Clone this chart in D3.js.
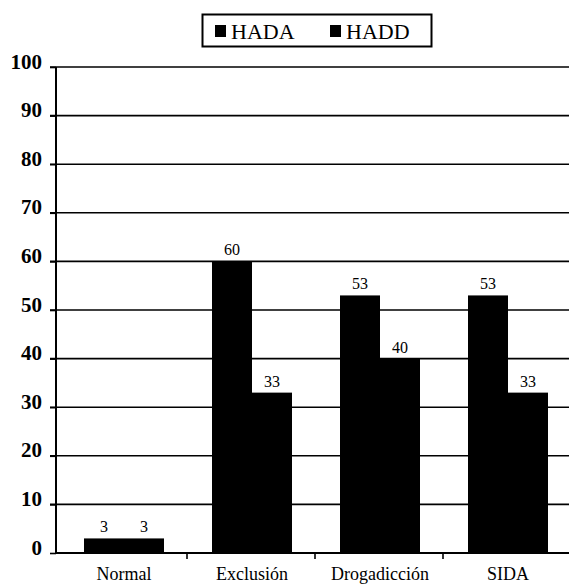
<!DOCTYPE html>
<html>
<head>
<meta charset="utf-8">
<script src="https://cdn.jsdelivr.net/npm/d3@7"></script>
<style>
  body { margin: 0; background: #fff; }
</style>
</head>
<body>
<div id="chart"></div>
<script>
// datos
const categorias = ["Normal", "Exclusión", "Drogadicción", "SIDA"];
const series = ["HADA", "HADD"];
const hada = [3, 60, 53, 53];
const hadd = [3, 33, 40, 33];
const ticksY = [0, 10, 20, 30, 40, 50, 60, 70, 80, 90, 100];

const width = 569, height = 585;
const x0 = 56, yTop = 67, yBase = 553;
const fuente = "'Liberation Serif', 'DejaVu Serif', 'Times New Roman', serif";

const svg = d3.select("#chart").append("svg")
  .attr("width", width)
  .attr("height", height)
  .attr("font-family", fuente);

const y = d3.scaleLinear().domain([0, 100]).range([yBase, yTop]);
const x = d3.scaleBand().domain(categorias).range([60, 572]).paddingInner(0.375).paddingOuter(0.1875);
const xs = d3.scaleBand().domain(series).range([0, x.bandwidth()]);

// lineas de la grilla
svg.append("g")
  .selectAll("line")
  .data(ticksY.filter(d => d > 0))
  .join("line")
  .attr("x1", x0 - 6)
  .attr("x2", width)
  .attr("y1", d => y(d))
  .attr("y2", d => y(d))
  .attr("stroke", "#000")
  .attr("stroke-width", 1.6);

// eje Y
const ejeY = svg.append("g")
  .attr("transform", "translate(" + x0 + ",0)")
  .call(d3.axisLeft(y).tickValues(ticksY).tickSize(6).tickPadding(8))
  .attr("font-family", fuente)
  .attr("font-size", 21);
ejeY.select(".domain").attr("stroke-width", 2).attr("d", "M0," + yBase + "V" + yTop);
ejeY.selectAll(".tick line").attr("stroke-width", 1.6);
ejeY.selectAll(".tick text")
  .style("font-family", fuente)
  .style("font-weight", "bold")
  .attr("dy", "0.05em");

// barras
const datos = categorias.map((c, i) => ({cat: c, valores: [{s: "HADA", v: hada[i]}, {s: "HADD", v: hadd[i]}]}));

const grupos = svg.append("g")
  .selectAll("g")
  .data(datos)
  .join("g")
  .attr("transform", d => "translate(" + x(d.cat) + ",0)");

grupos.selectAll("rect")
  .data(d => d.valores)
  .join("rect")
  .attr("x", d => xs(d.s))
  .attr("width", xs.bandwidth())
  .attr("y", d => y(d.v))
  .attr("height", d => y(0) - y(d.v))
  .attr("fill", "#000");

grupos.selectAll("text")
  .data(d => d.valores)
  .join("text")
  .attr("x", d => xs(d.s) + xs.bandwidth() / 2)
  .attr("y", d => y(d.v) - 6)
  .attr("text-anchor", "middle")
  .style("font-family", fuente)
  .style("font-size", "16px")
  .text(d => d.v);

// eje X
svg.append("line")
  .attr("x1", x0).attr("x2", width)
  .attr("y1", yBase).attr("y2", yBase)
  .attr("stroke", "#000").attr("stroke-width", 2);

svg.append("g")
  .selectAll("line")
  .data(categorias.slice(1))
  .join("line")
  .attr("x1", d => x(d) - x.step() * x.paddingInner() / 2 - 1)
  .attr("x2", d => x(d) - x.step() * x.paddingInner() / 2 - 1)
  .attr("y1", yBase)
  .attr("y2", yBase + 6)
  .attr("stroke", "#000")
  .attr("stroke-width", 1.6);

svg.append("g")
  .selectAll("text")
  .data(categorias)
  .join("text")
  .attr("x", d => x(d) + x.bandwidth() / 2)
  .attr("y", 580)
  .attr("text-anchor", "middle")
  .style("font-family", fuente)
  .style("font-size", "18px")
  .text(d => d);

// leyenda
const leyenda = svg.append("g");
leyenda.append("rect")
  .attr("x", 202.5).attr("y", 14.5)
  .attr("width", 229).attr("height", 32)
  .attr("fill", "none").attr("stroke", "#000").attr("stroke-width", 2);

const posLeyenda = [215, 330];
series.forEach((s, i) => {
  leyenda.append("rect")
    .attr("x", posLeyenda[i]).attr("y", 25)
    .attr("width", 11).attr("height", 12)
    .attr("fill", "#000");
  leyenda.append("text")
    .attr("x", posLeyenda[i] + 16).attr("y", 39)
    .style("font-family", fuente)
    .style("font-size", "22px")
    .text(s);
});
</script>
</body>
</html>
